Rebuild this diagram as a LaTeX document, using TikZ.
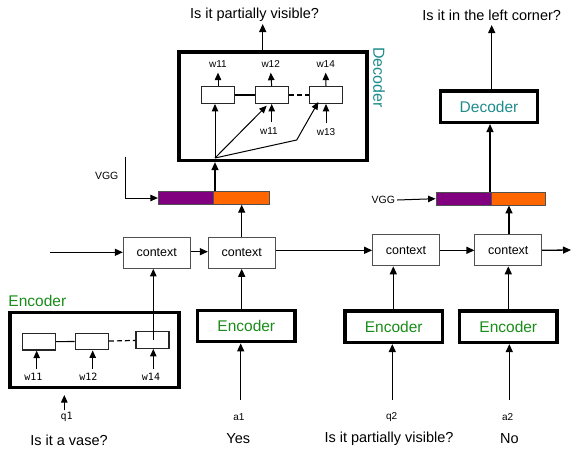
\documentclass[tikz,border=0pt]{standalone}
\usepackage{fontspec}
\setmainfont{Liberation Sans}
\newfontfamily\monofont{DejaVu Sans Mono}
\usetikzlibrary{arrows.meta}
\definecolor{encgreen}{RGB}{25,140,25}
\definecolor{decteal}{RGB}{30,140,140}
\definecolor{vggpurple}{RGB}{128,0,128}
\definecolor{vggorange}{RGB}{255,102,0}
\definecolor{boxgray}{RGB}{80,80,80}
\tikzset{
  arr/.style={-{Triangle[length=8pt,width=7pt]}, line width=1.3pt},
  thin arr/.style={-{Triangle[length=7.5pt,width=6.5pt]}, line width=1pt},
  bigbox/.style={draw, line width=3.6pt, inner sep=0pt},
  cellbox/.style={draw=black!85, line width=1.3pt, fill=white, minimum width=33pt, minimum height=16.6pt, inner sep=0pt},
  ctxbox/.style={draw=boxgray, line width=1pt, fill=white, minimum width=66.7pt, minimum height=31pt, inner sep=0pt, font=\fontsize{12.5}{14}\selectfont},
  encbox/.style={draw, line width=3.4pt, minimum width=97.3pt, minimum height=31.3pt, inner sep=0pt, text=encgreen, font=\fontsize{15.5}{18}\selectfont},
  decbox/.style={draw, line width=3.4pt, minimum width=96.6pt, minimum height=31.3pt, inner sep=0pt, text=decteal, font=\fontsize{15.5}{18}\selectfont},
  small/.style={font=\fontsize{10}{12}\selectfont, inner sep=0pt},
  smallmono/.style={font=\monofont\fontsize{10}{12}\selectfont, inner sep=0pt},
  question/.style={font=\fontsize{14.5}{17}\selectfont, inner sep=0pt},
  barhalf/.style={draw=boxgray, line width=0.8pt, minimum height=12.6pt, inner sep=0pt},
}
\begin{document}
\begin{tikzpicture}[x=1pt,y=-1pt]
\useasboundingbox (0,0) rectangle (571,448);

% ---------- Top decoder (expanded) ----------
\node[bigbox, minimum width=188.3pt, minimum height=108.6pt] (dbig) at (272.85,106) {};
\node[font=\fontsize{16}{18}\selectfont, text=decteal, rotate=-90, inner sep=0pt] (dlabel) at (379,77.5) {Decoder};
\node[cellbox] (d1) at (218,95) {};
\node[cellbox] (d2) at (271.7,95) {};
\node[cellbox] (d3) at (326,95) {};
\draw[line width=1.2pt] (d1) -- (d2);
\draw[line width=1.2pt, dash pattern=on 5pt off 3pt] (d2) -- (d3);
\node[small] (dw11) at (218,64) {w11};
\node[small] (dw12) at (270.7,64) {w12};
\node[small] (dw14) at (325.7,64) {w14};
\draw[thin arr] (d1.north) -- ([yshift=-5pt]dw11.south);
\draw[thin arr] (d2.north) -- ([yshift=-5pt]dw12.south);
\draw[thin arr] (d3.north) -- ([yshift=-5pt]dw14.south);
\node[small] (dwin11) at (269,130.7) {w11};
\node[small] (dwin13) at (326,131.7) {w13};
\draw[thin arr] ([yshift=5pt]dwin11.north -| d2.south) -- (d2.south);
\draw[thin arr] ([yshift=5pt]dwin13.north) -- (d3.south -| dwin13.north);
\coordinate (fan) at (215,158);
\coordinate (bend) at (296.7,140);
\draw[thin arr] (fan) -- (fan |- d1.south);
\draw[thin arr] (fan) -- (266.7,105.7);
\draw[thin arr] (fan) -- (bend) -- (318.3,102);
\node[question] (qtop) at (254.5,15) {Is it partially visible?};
\coordinate (topout) at (262.7,24);
\draw[arr] (dbig.north -| topout) -- (topout);

% ---------- VGG bar 1 ----------
\node[barhalf, fill=vggpurple, minimum width=55pt] (p1) at (185.8,198) {};
\node[barhalf, fill=vggorange, minimum width=56pt] (o1) at (241.3,198) {};
\coordinate (vggtop) at (125,156.7);
\node[small, font=\fontsize{10.5}{12}\selectfont] (vgg1) at (106.7,175.5) {VGG};
\draw[thin arr] (vggtop) |- (p1.west);
\draw[arr] (p1.north -| fan) -- (fan |- dbig.south);

% ---------- Top-right decoder ----------
\node[decbox] (dec2) at (489,106.7) {Decoder};
\node[question] (qtop2) at (491.7,15) {Is it in the left corner?};
\coordinate (top2out) at (491.7,25);
\draw[arr] (dec2.north -| top2out) -- (top2out);
\node[barhalf, fill=vggpurple, minimum width=55pt] (p2) at (463.5,198.7) {};
\node[barhalf, fill=vggorange, minimum width=54.7pt] (o2) at (518.4,198.7) {};
\node[small, font=\fontsize{10.5}{12}\selectfont] (vgg2) at (383.3,200) {VGG};
\draw[thin arr] (vgg2.east) ++(2,0) -- (p2.west);
\coordinate (b2x) at (490,0);
\draw[arr] (p2.north -| b2x) -- (b2x |- dec2.south);

% ---------- Context row ----------
\node[ctxbox] (c1) at (156.7,252.8) {context};
\node[ctxbox] (c2) at (241.7,252.8) {context};
\node[ctxbox] (c3) at (406,250.3) {context};
\node[ctxbox] (c4) at (508.3,250.3) {context};
\coordinate (cin) at (50,252.3);
\coordinate (cout) at (571,250);
\coordinate (c12y) at (0,251.7);
\draw[arr] (cin) -- (c1.west |- cin);
\draw[arr] (c1.east |- c12y) -- (c2.west |- c12y);
\draw[arr] (c2.east |- c3.west) -- (c3.west);
\draw[arr] (c3.east) -- (c4.west);
\draw[arr] (c4.east) -- (cout);
\draw[arr] (c2.north) -- (c2.north |- o1.south);
\coordinate (c4x) at (509,0);
\draw[arr] (c4.north -| c4x) -- (c4x |- o2.south);

% ---------- Left encoder (expanded) ----------
\node[bigbox, line width=3.2pt, minimum width=169pt, minimum height=75.4pt] (ebig) at (94.5,350) {};
\node[font=\fontsize{15.5}{18}\selectfont, text=encgreen, anchor=west, inner sep=0pt] (elabel) at (8.3,300.5) {Encoder};
\node[cellbox] (e1) at (39,341.7) {};
\node[cellbox] (e2) at (91.7,341.5) {};
\node[cellbox] (e3) at (152.5,340) {};
\draw[line width=1.2pt] (e1) -- (e2);
\draw[line width=1.2pt, dash pattern=on 5pt off 3pt] (e2) -- (e3);
\node[smallmono] (ew11) at (33.3,377) {w11};
\node[smallmono] (ew12) at (88.3,377) {w12};
\node[smallmono] (ew14) at (151,377) {w14};
\coordinate (x1) at (36.7,0);
\coordinate (x2) at (92.7,0);
\coordinate (x3) at (153.3,0);
\draw[thin arr] ([yshift=4pt]ew11.north -| x1) -- (x1 |- e1.south);
\draw[thin arr] ([yshift=4pt]ew12.north -| x2) -- (x2 |- e2.south);
\draw[thin arr] ([yshift=4pt]ew14.north -| x3) -- (x3 |- e3.south);
\draw[thin arr] (x3 |- e3.center) -- (x3 |- c1.south);
\node[smallmono] (q1) at (66.7,417) {q1};
\coordinate (q1a) at (64.3,410);
\coordinate (q1b) at (64.3,395);
\draw[thin arr] (q1a) -- (q1b);
\node[question] (t1) at (69,440.5) {Is it a vase?};

% ---------- Bottom encoders ----------
\node[encbox] (enc1) at (246.3,326) {Encoder};
\node[encbox] (enc2) at (393.7,326.7) {Encoder};
\node[encbox] (enc3) at (508.3,326.7) {Encoder};
\coordinate (e1x) at (241.7,0);
\coordinate (e2x) at (393.3,0);
\coordinate (e3x) at (508.3,0);
\draw[arr] (enc1.north -| e1x) -- (e1x |- c2.south);
\draw[arr] (enc2.north -| e2x) -- (e2x |- c3.south);
\draw[arr] (enc3.north -| e3x) -- (e3x |- c4.south);
\node[small] (a1) at (239,417.3) {a1};
\node[small] (q2) at (391.7,417.3) {q2};
\node[small] (a2) at (507.7,417.3) {a2};
\coordinate (i1) at (240.7,400);
\coordinate (i2) at (392.3,400);
\coordinate (i3) at (509.3,400);
\draw[arr] (i1) -- (i1 |- enc1.south);
\draw[arr] (i2) -- (i2 |- enc2.south);
\draw[arr] (i3) -- (i3 |- enc3.south);
\node[question] (t2) at (238.3,439) {Yes};
\node[question] (t3) at (389,439) {Is it partially visible?};
\node[question] (t4) at (509.3,439) {No};
\end{tikzpicture}
\end{document}
